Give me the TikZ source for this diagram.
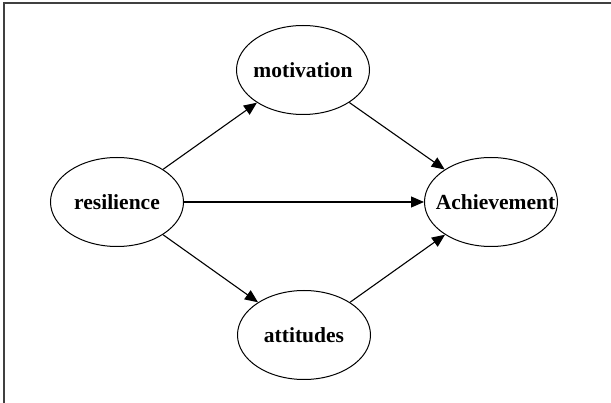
\documentclass[tikz,border=0pt]{standalone}
\usepackage{fontspec}
\setmainfont{Liberation Serif}
\usetikzlibrary{shapes.geometric,arrows.meta}
\newcommand{\varlbl}[1]{\makebox[0pt]{#1}}
\tikzset{
  var/.style={ellipse, draw, line width=1pt, minimum width=133pt, minimum height=89pt, inner sep=0pt, font=\fontsize{21.5}{23}\selectfont\bfseries},
  link/.style={line width=1.1pt, -{Triangle[length=13pt,width=11pt]}},
  frame/.style={line width=2pt, draw=black!75}
}
\begin{document}
\begin{tikzpicture}[x=1pt,y=-1pt]
\useasboundingbox (0,0) rectangle (611,403);
\coordinate (tl) at (3.5,3.5);
\coordinate (tr) at (611,3.5);
\coordinate (bl) at (3.5,403);
\draw[frame] (tr) -- (tl) -- (bl);
\node[var] (res) at (117,202) {\varlbl{resilience}};
\node[var] (mot) at (303,70) {\varlbl{motivation}};
\node[var] (ach) at (491,202) {\varlbl{\hspace{9pt}Achievement}};
\node[var] (att) at (304,335) {\varlbl{attitudes}};
\draw[link] (res) -- (mot);
\draw[link] (mot) -- (ach);
\draw[link] (res) -- (ach);
\draw[link] (res) -- (att);
\draw[link] (att) -- (ach);
\end{tikzpicture}
\end{document}
